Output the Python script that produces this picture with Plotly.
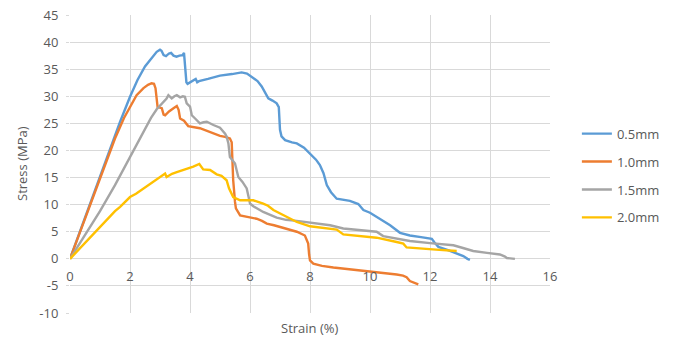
import plotly.graph_objects as go

# ---- data ----
x_05 = [0, 0.5, 1.0, 1.5, 1.67, 2.0, 2.25, 2.5, 2.72, 2.89, 3.0, 3.05, 3.12, 3.2, 3.3, 3.37, 3.45, 3.55,
        3.65, 3.75, 3.8, 3.84, 3.88, 3.92, 4.05, 4.19, 4.24, 4.3, 4.6, 5.0, 5.4, 5.72, 5.9, 6.06, 6.25,
        6.39, 6.5, 6.61, 6.75, 6.89, 6.96, 7.0, 7.05, 7.17, 7.4, 7.56, 7.8, 8.0, 8.2, 8.33, 8.45, 8.56,
        8.7, 8.89, 9.1, 9.33, 9.61, 9.78, 10.0, 10.33, 10.67, 11.0, 11.33, 11.7, 12.06, 12.15, 12.28,
        12.6, 12.89, 13.11, 13.25, 13.33]
y_05 = [0, 7.6, 15.1, 22.7, 25.3, 29.9, 33.0, 35.5, 37.0, 38.2, 38.6, 38.4, 37.6, 37.4, 37.9, 38.0, 37.5, 37.3,
        37.5, 37.6, 38.0, 35.0, 32.6, 32.3, 32.8, 33.2, 32.6, 32.8, 33.2, 33.8, 34.1, 34.4, 34.2, 33.6, 32.8,
        31.8, 30.7, 29.6, 29.2, 28.7, 28.0, 23.8, 22.6, 21.9, 21.5, 21.3, 20.5, 19.4, 18.3, 17.3, 15.8, 13.6,
        12.3, 11.1, 10.9, 10.7, 10.1, 9.0, 8.5, 7.4, 6.2, 4.8, 4.3, 4.0, 3.7, 3.0, 2.2,
        1.6, 1.0, 0.5, 0.0, -0.2]

x_10 = [0, 0.5, 1.0, 1.5, 1.8, 2.0, 2.22, 2.45, 2.6, 2.72, 2.8, 2.85, 2.92, 3.06, 3.12, 3.17, 3.3, 3.45,
        3.56, 3.62, 3.67, 3.8, 3.94, 4.33, 4.6, 4.78, 5.0, 5.17, 5.33, 5.39, 5.44, 5.5, 5.53, 5.67, 5.9,
        6.22, 6.4, 6.56, 6.8, 7.0, 7.3, 7.56, 7.83, 7.9, 7.94, 7.97, 8.0, 8.11, 8.4, 8.78, 9.3, 9.89,
        10.4, 10.89, 11.1, 11.22, 11.33, 11.45, 11.61]
y_10 = [0, 7.3, 14.7, 22.2, 26.0, 28.0, 30.2, 31.5, 32.1, 32.4, 32.3, 31.5, 28.0, 27.8, 26.6, 26.5, 27.2, 27.8,
        28.2, 27.5, 25.9, 25.5, 24.5, 24.1, 23.5, 23.1, 22.7, 22.5, 22.2, 21.5, 14.5, 10.5, 9.3, 8.0, 7.7,
        7.4, 7.0, 6.5, 6.2, 5.9, 5.4, 5.0, 4.3, 3.5, 2.8, 0.8, -0.3, -0.9, -1.3, -1.6, -1.9, -2.3,
        -2.6, -2.9, -3.1, -3.4, -4.1, -4.4, -4.7]

x_15 = [0, 0.5, 1.0, 1.5, 1.78, 2.0, 2.4, 2.7, 2.89, 3.05, 3.22, 3.28, 3.39, 3.48, 3.56, 3.67, 3.76, 3.83,
        3.89, 4.0, 4.06, 4.17, 4.33, 4.45, 4.56, 4.78, 5.0, 5.17, 5.22, 5.28, 5.33, 5.5, 5.61, 5.75, 5.89,
        5.95, 6.0, 6.11, 6.44, 6.89, 7.2, 7.56, 8.1, 8.67, 9.11, 9.6, 10.22, 10.44, 10.9, 11.33, 12.0,
        12.78, 13.1, 13.44, 13.9, 14.33, 14.5, 14.56, 14.83]
y_15 = [0, 4.3, 8.8, 13.6, 16.5, 18.7, 23.0, 26.0, 27.6, 28.6, 29.6, 30.2, 29.6, 30.0, 30.2, 29.8, 30.0, 29.9,
        28.7, 28.1, 26.5, 25.9, 25.0, 25.2, 25.3, 24.7, 24.2, 23.1, 22.6, 21.3, 18.8, 17.6, 15.1, 14.2, 13.0,
        11.5, 10.2, 9.7, 8.65, 7.6, 7.2, 7.0, 6.6, 6.2, 5.6, 5.3, 5.0, 4.2, 3.8, 3.3, 2.9,
        2.5, 2.0, 1.45, 1.1, 0.8, 0.4, 0.15, 0.0]

x_20 = [0, 0.5, 1.0, 1.5, 1.67, 2.0, 2.2, 2.5, 2.67, 2.9, 3.1, 3.17, 3.22, 3.4, 3.56, 3.8, 4.11, 4.31,
        4.44, 4.67, 4.89, 5.05, 5.22, 5.3, 5.44, 5.67, 6.11, 6.44, 6.6, 6.78, 7.2, 7.56, 8.0, 8.5, 8.89,
        9.11, 9.6, 10.22, 10.89, 11.11, 11.22, 11.6, 12.2, 12.89]
y_20 = [0, 3.0, 6.0, 8.8, 9.6, 11.4, 12.0, 13.2, 13.9, 14.8, 15.5, 15.75, 15.1, 15.7, 16.0, 16.4, 17.0, 17.5,
        16.5, 16.4, 15.6, 15.3, 14.5, 13.0, 11.4, 10.8, 10.8, 10.2, 9.8, 9.0, 7.8, 6.8, 6.0, 5.7, 5.4,
        4.5, 4.2, 3.9, 3.1, 2.8, 2.1, 1.9, 1.7, 1.45]

series_names = ["0.5mm", "1.0mm", "1.5mm", "2.0mm"]
series_x = [x_05, x_10, x_15, x_20]
series_y = [y_05, y_10, y_15, y_20]
colors = ["#5B9BD5", "#ED7D31", "#A5A5A5", "#FFC000"]

x_ticks = [0, 2, 4, 6, 8, 10, 12, 14, 16]
y_ticks = [-10, -5, 0, 5, 10, 15, 20, 25, 30, 35, 40, 45]

FONT = "Open Sans"
TXT = "#595959"
GRID = "#D9D9D9"

fig = go.Figure()
for name, xs, ys, c in zip(series_names, series_x, series_y, colors):
    fig.add_trace(go.Scatter(x=xs, y=ys, mode="lines", name=name, legendgroup=name,
                             line=dict(color=c, width=2.4)))

ymin, ymax = -10, 45
fig.update_layout(
    width=678, height=338,
    margin=dict(l=70, r=128, t=15, b=25, autoexpand=False),
    paper_bgcolor="white", plot_bgcolor="white",
    font=dict(family=FONT, size=13, color=TXT),
    showlegend=True,
    legend=dict(x=1.056, y=0.652, xanchor="left", yanchor="top",
                font=dict(family=FONT, size=13, color=TXT),
                tracegroupgap=8, itemwidth=30),
    xaxis=dict(range=[0, 16], tickvals=x_ticks, ticktext=[str(v) for v in x_ticks],
               showgrid=True, gridcolor=GRID, gridwidth=1, zeroline=False,
               showline=False, anchor="free", position=(0 - ymin) / (ymax - ymin),
               ticks="", ticklabelstandoff=8, automargin=False,
               tickfont=dict(size=13, color=TXT)),
    yaxis=dict(range=[ymin, ymax], tickvals=y_ticks, ticktext=[str(v) for v in y_ticks],
               showgrid=True, gridcolor=GRID, gridwidth=1, zeroline=True,
               zerolinecolor=GRID, zerolinewidth=1,
               showline=False, ticks="outside", ticklen=3, tickcolor=GRID,
               ticklabelstandoff=5, automargin=False,
               tickfont=dict(size=13, color=TXT)),
    annotations=[
        dict(text="Strain (%)", xref="paper", yref="paper", x=0.5, y=-0.052,
             xanchor="center", yanchor="middle", showarrow=False,
             font=dict(family=FONT, size=13, color=TXT)),
        dict(text="Stress (MPa)", xref="paper", yref="paper", x=-0.1, y=0.5,
             xanchor="center", yanchor="middle", textangle=-90, showarrow=False,
             font=dict(family=FONT, size=13, color=TXT)),
    ],
)

fig.write_html("out.html", config={"displayModeBar": False},
               post_script="document.body.style.margin='0';document.body.style.overflow='hidden';")
